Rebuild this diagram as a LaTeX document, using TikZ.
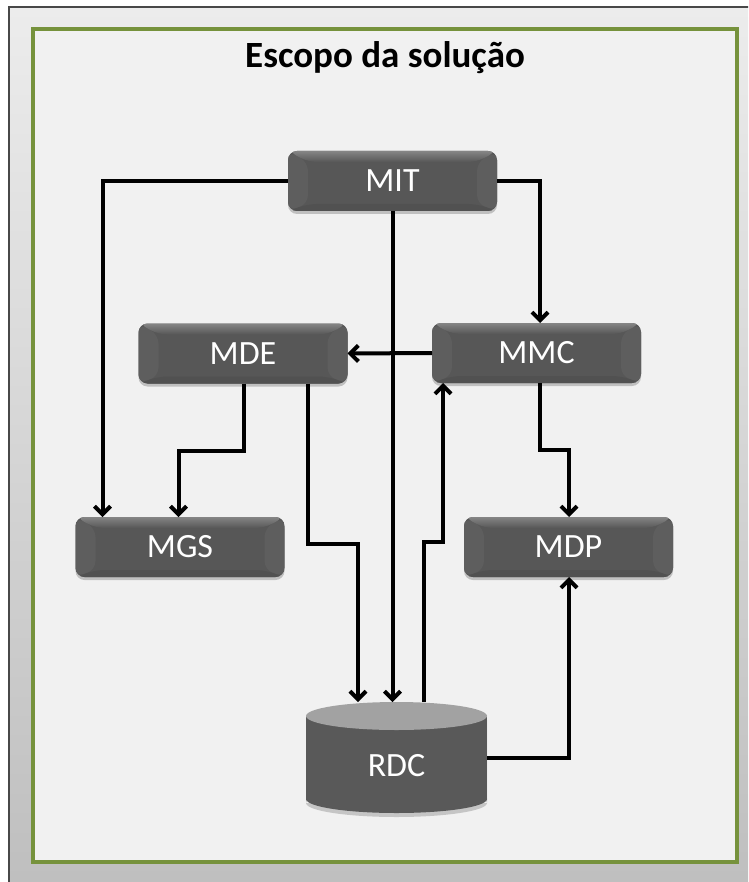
\documentclass[tikz,border=0pt]{standalone}
\usepackage{fontspec}
\setmainfont{Carlito}
\usetikzlibrary{arrows.meta,calc,shadows}

\definecolor{outertop}{HTML}{ECECEC}
\definecolor{outerbot}{HTML}{BEBEBE}
\definecolor{outerline}{HTML}{484848}
\definecolor{framegreen}{HTML}{76923C}
\definecolor{innerbg}{HTML}{F1F1F1}
\definecolor{boxmid}{HTML}{575757}
\definecolor{bevelside}{HTML}{5E5E5E}
\definecolor{beveltop}{HTML}{858585}
\definecolor{bevelbot}{HTML}{515151}
\definecolor{cylbody}{HTML}{595959}
\definecolor{cyltop}{HTML}{A2A2A2}

\begin{document}
\begin{tikzpicture}[x=1pt,y=-1pt,
  box/.style={rounded corners=9pt, minimum width=209pt, minimum height=60pt,
    inner sep=0pt, outer sep=0pt, fill=boxmid, text=white,
    font=\fontsize{34}{40}\selectfont,
    drop shadow={shadow xshift=0pt, shadow yshift=-3pt, opacity=0.2, fill=black},
    path picture={
      \path (path picture bounding box.north west) coordinate (pnw)
            (path picture bounding box.north east) coordinate (pne)
            (path picture bounding box.south west) coordinate (psw)
            (path picture bounding box.south east) coordinate (pse);
      \coordinate (inw) at ([xshift=20pt,yshift=-11pt]pnw);
      \coordinate (ine) at ([xshift=-20pt,yshift=-11pt]pne);
      \coordinate (isw) at ([xshift=20pt,yshift=7pt]psw);
      \coordinate (ise) at ([xshift=-20pt,yshift=7pt]pse);
      \fill[bevelside] (pnw) -- (inw) -- (isw) -- (psw) -- cycle;
      \fill[bevelside] (pne) -- (ine) -- (ise) -- (pse) -- cycle;
      \fill[bevelbot] (psw) -- (pse) -- (ise) -- (isw) -- cycle;
      \shade[top color=beveltop, bottom color=boxmid] (pnw) -- (pne) -- (ine) -- (inw) -- cycle;
    }},
  lbl/.style={text=white, font=\fontsize{34}{40}\selectfont, inner sep=0pt},
  title/.style={font=\bfseries\fontsize{37}{44}\selectfont, inner sep=0pt},
  conn/.style={line width=4pt, black, line join=miter,
    -{Straight Barb[length=8pt,width=16pt]}}
]
\useasboundingbox (0,0) rectangle (748,882);

% outer panel, running off the right and bottom edges
\begin{scope}
  \clip (0,0) rectangle (748,882);
  \fill[white] (0,0) rectangle (748,882);
  \shade[top color=outertop, bottom color=outerbot] (9,7) rectangle (770,900);
  \draw[line width=2pt, outerline] (9,900) -- (9,7) -- (770,7);
\end{scope}

% green frame of the scope
\draw[line width=3.5pt, framegreen, fill=innerbg] (33,29) rectangle (737,862);

\node[title, anchor=base] (title) at (385,68) {Escopo da solução};

% modules
\node[box] (MIT) at (392.5,181) {MIT};
\node[box] (MDE) at (243,353.5) {MDE};
\node[box] (MMC) at (536.5,353) {MMC};
\node[box] (MGS) at (180,547) {MGS};
\node[box] (MDP) at (568.5,547) {MDP};

% repository cylinder
\fill[black, opacity=0.18] (306,720) rectangle (487,803) (396.5,803) ellipse [x radius=90.5, y radius=14];
\fill[cylbody] (306,716) rectangle (487,799);
\fill[cylbody] (396.5,799) ellipse [x radius=90.5, y radius=14];
\fill[cyltop] (396.5,716) ellipse [x radius=90.5, y radius=14];
\node[inner sep=0pt, outer sep=0pt, minimum width=181pt, minimum height=111pt] (RDC) at (396.5,757.5) {};
\node[lbl] (RDCtext) at ([yshift=-8.5pt]RDC.center) {RDC};

% connectors
\draw[conn] (MIT.west) -| ([xshift=27pt]MGS.north west);
\draw[conn] (MIT.east) -| ([xshift=108pt]MMC.north west);
\draw[conn] (MIT.south) -- (MIT.south |- RDC.north);
\draw[conn] (MMC.west) -- (MDE.east);
\draw[conn] ([xshift=105pt]MDE.south west) -- ++(0,67) -| ([xshift=103pt]MGS.north west);
\draw[conn] ([xshift=169pt]MDE.south west) -- ++(0,160) -| ([xshift=-38.5pt]RDC.north);
\draw[conn] ([xshift=27pt]RDC.north) -- ++(0,-160) -| ([xshift=11pt]MMC.south west);
\draw[conn] ([xshift=108pt]MMC.south west) -- ++(0,67) -| ([xshift=105pt]MDP.north west);
\draw[conn] (RDC.east) -| ([xshift=105pt]MDP.south west);
\end{tikzpicture}
\end{document}
